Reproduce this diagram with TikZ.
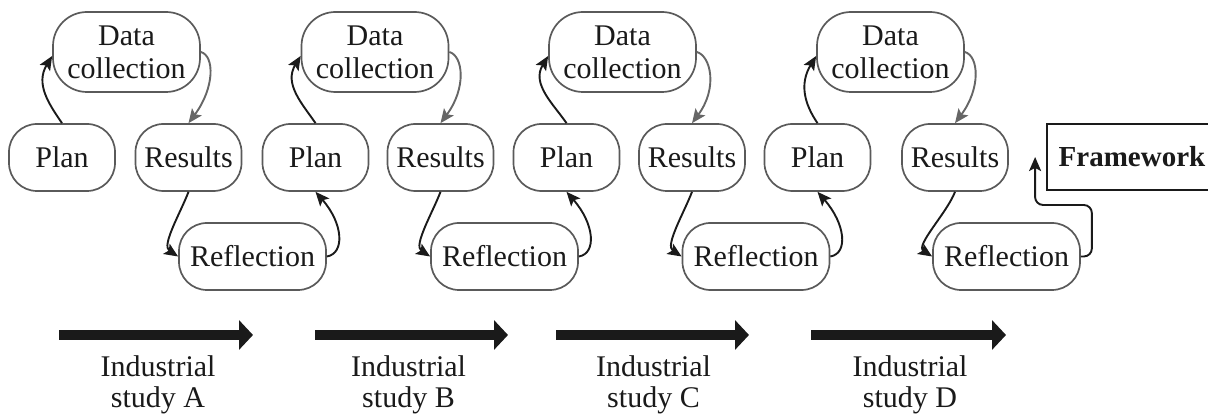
\documentclass[tikz,border=0pt]{standalone}
\usepackage{fontspec}
\setmainfont{Liberation Serif}
\usetikzlibrary{arrows.meta}
\definecolor{boxgray}{HTML}{5A5A5A}
\definecolor{arrgray}{HTML}{666666}
\definecolor{ink}{HTML}{1A1A1A}
\begin{document}
\begin{tikzpicture}[x=1pt,y=1pt,
  box/.style={draw=boxgray, line width=1.7pt, rounded corners=28pt, minimum height=67pt,
    inner sep=0pt, font=\fontsize{30}{33}\selectfont, align=center, text=ink},
  smallbox/.style={box, minimum width=106pt},
  widebox/.style={box, minimum width=147pt},
  databox/.style={box, minimum width=147pt, minimum height=80pt, rounded corners=34pt},
  fwbox/.style={draw=ink, line width=1.8pt, minimum width=170pt, minimum height=66pt,
    inner sep=0pt, font=\fontsize{29}{33}\selectfont\bfseries, text=ink},
  conn/.style={draw=ink, line width=1.9pt, -{Stealth[length=14pt,width=12pt,inset=3pt]}},
  gconn/.style={conn, draw=arrgray, -{Stealth[length=14pt,width=12pt,inset=3pt,fill=arrgray]}},
  bigarrow/.style={draw=ink, line width=10pt, -{Triangle[length=14pt,width=29pt]}},
  lbl/.style={font=\fontsize{30}{33}\selectfont, text=ink, anchor=base, inner sep=0pt}
]
\clip (0,0) rectangle (1208,414);
\fill[white] (0,0) rectangle (1208,414);

\foreach \n/\p/\d/\r/\f in {A/62/126.5/188.5/252.5, B/315.5/375/440.5/504.5,
                            C/566.5/622.5/692/756, D/817.5/890.5/955/1006.5}{
  \node[smallbox] (p\n) at (\p,256.5) {Plan};
  \node[databox]  (d\n) at (\d,362) {Data\\collection};
  \node[smallbox] (r\n) at (\r,256.5) {Results};
  \node[widebox]  (f\n) at (\f,157.5) {Reflection};
  \draw[conn]  (p\n.north) .. controls +(-13,19) and +(-17,-28) .. ([yshift=-4pt]d\n.west);
  \draw[gconn] (d\n.east) .. controls +(14,-4) and +(26,35) .. (r\n.north);
  \draw[conn]  (r\n.south) .. controls +(-8,-21) and +(-17,11) .. (f\n.west);
}
\draw[conn] (fA.east) .. controls +(18,3) and +(28,-32) .. (pB.south);
\draw[conn] (fB.east) .. controls +(18,3) and +(28,-32) .. (pC.south);
\draw[conn] (fC.east) .. controls +(18,3) and +(28,-32) .. (pD.south);

\node[fwbox] (fw) at (1132,257) {Framework};
\draw[conn, rounded corners=8pt] (fD.east) -- ++(11,0) |- ([xshift=-11pt,yshift=-48pt]fw.west)
  -- ([xshift=-11pt]fw.west);

\foreach \n/\s/\e/\c in {A/59/253/158, B/315/508/408.5, C/556/749/653.5, D/811/1006/910}{
  \coordinate (s\n) at (\s,79);
  \coordinate (e\n) at (\e,79);
  \draw[bigarrow] (s\n) -- (e\n);
  \node[lbl] (i\n) at (\c,37) {Industrial};
  \node[lbl] (t\n) at (\c,6) {study \n};
}
\end{tikzpicture}
\end{document}
